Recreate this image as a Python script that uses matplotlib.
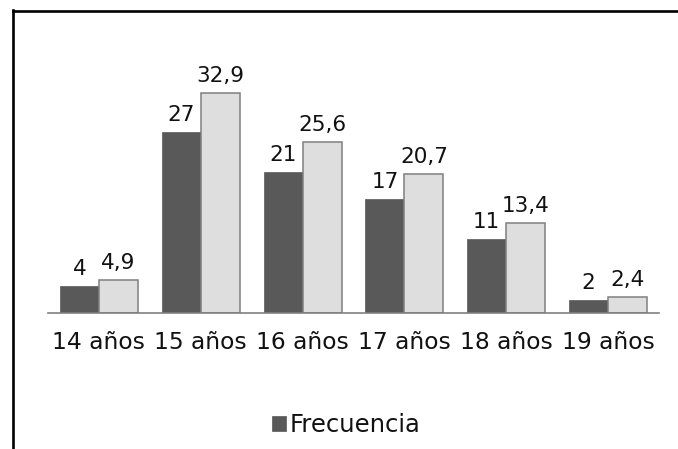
import numpy as np
import matplotlib
matplotlib.use('Agg')
import matplotlib.pyplot as plt
from matplotlib.lines import Line2D

categories = ['14 años', '15 años', '16 años', '17 años', '18 años', '19 años']
frecuencia = [4, 27, 21, 17, 11, 2]
porcentaje = [4.9, 32.9, 25.6, 20.7, 13.4, 2.4]

DARK = '#595959'
LIGHT = '#dedede'
EDGE = '#7f7f7f'
FONT = 'DejaVu Sans'
TXT = '#111111'

fig = plt.figure(figsize=(6.78, 4.49), dpi=100)
ax = fig.add_axes([48 / 678, 1 - 313 / 449, 611 / 678, 253 / 449])

x = np.arange(len(categories))
w = 0.383
b1 = ax.bar(x - w / 2, frecuencia, w, color=DARK, edgecolor=DARK, linewidth=0.5,
            label='Frecuencia')
b2 = ax.bar(x + w / 2, porcentaje, w, color=LIGHT, edgecolor=EDGE, linewidth=1.1)

for rect, v in zip(b1, frecuencia):
    ax.annotate(f'{v}', (rect.get_x() + rect.get_width() / 2, rect.get_height()),
                xytext=(0, 8), textcoords='offset points', ha='center', va='baseline',
                fontsize=15.5, family=FONT, color=TXT)
for rect, v in zip(b2, porcentaje):
    ax.annotate(f'{v:.1f}'.replace('.', ','),
                (rect.get_x() + rect.get_width() / 2, rect.get_height()),
                xytext=(0, 8), textcoords='offset points', ha='center', va='baseline',
                fontsize=15.5, family=FONT, color=TXT)

ax.set_xlim(-0.5, len(categories) - 0.5)
ax.set_ylim(0, 37.8)
ax.set_xticks(x)
ax.set_xticklabels(categories, fontsize=16.8, family=FONT, color=TXT)
ax.tick_params(axis='x', length=0, pad=13)
ax.set_yticks([])
for s in ['top', 'right', 'left']:
    ax.spines[s].set_visible(False)
ax.spines['bottom'].set_color('#808080')
ax.spines['bottom'].set_linewidth(1.2)

leg = fig.legend(handles=[b1], labels=['Frecuencia'], loc='center',
                 bbox_to_anchor=(346 / 678, 1 - 425 / 449), frameon=False,
                 handlelength=0.6, handleheight=0.6, handletextpad=0.12,
                 prop={'family': FONT, 'size': 17.5})
for t in leg.get_texts():
    t.set_color(TXT)

# outer frame (only top and left edges are visible in the crop)
fig.add_artist(Line2D([12.5 / 678, 1], [1 - 10.8 / 449, 1 - 10.8 / 449],
                      color='black', linewidth=1.9, transform=fig.transFigure))
fig.add_artist(Line2D([12.8 / 678, 12.8 / 678], [1 - 10 / 449, 0],
                      color='black', linewidth=1.9, transform=fig.transFigure))

fig.savefig('out.png', dpi=100)
